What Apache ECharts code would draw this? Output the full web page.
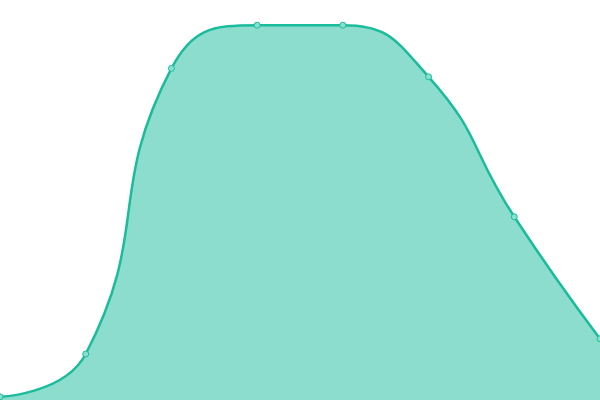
<!DOCTYPE html>
<html><head><meta charset="utf-8">
<script src="https://cdn.jsdelivr.net/npm/echarts@6/dist/echarts.min.js"></script>
<style>html,body{margin:0;padding:0;background:#fff}#c{width:600px;height:400px}</style>
</head><body><div id="c"></div>
<script>
var categories = ['1','2','3','4','5','6','7','8'];
var values = [0.8, 11.5, 82.9, 93.7, 93.7, 80.8, 45.8, 15.3];
var chart = echarts.init(document.getElementById('c'));
chart.setOption({
  animation: false,
  grid: {left: 0, right: 0, top: 0, bottom: 0},
  xAxis: {type: 'category', data: categories, boundaryGap: false, show: false},
  yAxis: {type: 'value', min: 0, max: 100, show: false},
  series: [{
    type: 'line',
    data: values,
    smooth: true,
    symbol: 'circle',
    symbolSize: 6,
    itemStyle: {color: '#8ae0d0', borderColor: '#1abc9c', borderWidth: 1},
    lineStyle: {color: '#1abc9c', width: 2.5},
    areaStyle: {color: '#1abc9c', opacity: 0.5}
  }]
});
</script></body></html>
